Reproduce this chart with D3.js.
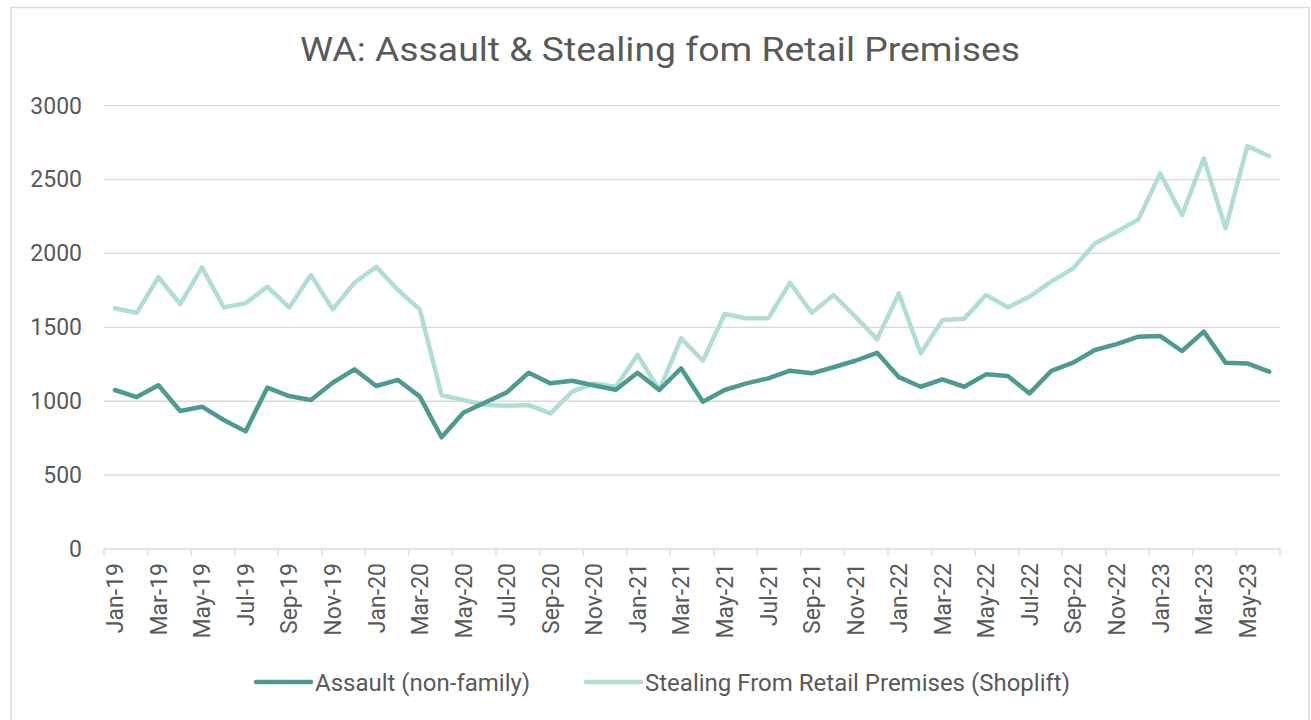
<!DOCTYPE html>
<meta charset="utf-8">
<style>
body { margin: 0; background: #fff; }
text { font-family: Roboto, "Liberation Sans", sans-serif; fill: #595959; }
.grid line { stroke: #d9d9d9; stroke-width: 1.3px; }
.series { fill: none; stroke-width: 4.5px; stroke-linejoin: round; stroke-linecap: round; }
</style>
<svg width="1311" height="720"></svg>
<script src="https://d3js.org/d3.v7.min.js"></script>
<script>

var months = ["Jan-19","Feb-19","Mar-19","Apr-19","May-19","Jun-19","Jul-19","Aug-19","Sep-19","Oct-19","Nov-19","Dec-19",
  "Jan-20","Feb-20","Mar-20","Apr-20","May-20","Jun-20","Jul-20","Aug-20","Sep-20","Oct-20","Nov-20","Dec-20",
  "Jan-21","Feb-21","Mar-21","Apr-21","May-21","Jun-21","Jul-21","Aug-21","Sep-21","Oct-21","Nov-21","Dec-21",
  "Jan-22","Feb-22","Mar-22","Apr-22","May-22","Jun-22","Jul-22","Aug-22","Sep-22","Oct-22","Nov-22","Dec-22",
  "Jan-23","Feb-23","Mar-23","Apr-23","May-23","Jun-23"];

var assault = [1076,1028,1108,934,963,873,796,1092,1035,1008,1125,1216,
  1103,1144,1031,756,922,992,1060,1193,1121,1139,1106,1078,
  1193,1076,1223,997,1076,1121,1155,1207,1189,1230,1274,1328,
  1163,1098,1148,1098,1182,1171,1053,1205,1261,1347,1387,1437,
  1441,1340,1471,1261,1256,1200];

var shoplift = [1629,1599,1839,1658,1906,1635,1663,1775,1635,1854,1622,1802,
  1910,1753,1622,1042,1008,974,970,974,918,1065,1121,1098,
  1313,1076,1426,1274,1590,1561,1561,1802,1599,1719,1572,1419,
  1730,1324,1550,1559,1719,1635,1708,1809,1899,2068,2147,2231,
  2542,2260,2644,2170,2727,2659];

var yTicks = [0, 500, 1000, 1500, 2000, 2500, 3000];

var seriesNames = ["Assault (non-family)", "Stealing From Retail Premises (Shoplift)"];
var seriesColors = ["#4d9a92", "#b0ddd6"];

var svg = d3.select("svg");

// chart border
svg.append("rect")
    .attr("x", 11).attr("y", 7.5)
    .attr("width", 1298).attr("height", 730)
    .attr("fill", "none")
    .attr("stroke", "#d9d9d9")
    .attr("stroke-width", 1.5);

var plotLeft = 104, plotRight = 1280, plotTop = 105.7, plotBottom = 549;

var x = d3.scaleBand().domain(months).range([plotLeft, plotRight]).padding(0);
var y = d3.scaleLinear().domain([0, 3000]).range([plotBottom, plotTop]);

function cx(d, i) { return x(months[i]) + x.bandwidth() / 2; }

// title
svg.append("text")
    .attr("x", 660).attr("y", 61)
    .attr("text-anchor", "middle")
    .attr("textLength", 720)
    .attr("lengthAdjust", "spacingAndGlyphs")
    .style("font-size", "34px")
    .text("WA: Assault & Stealing fom Retail Premises");

// gridlines
svg.append("g").attr("class", "grid")
  .selectAll("line")
  .data(yTicks)
  .enter().append("line")
    .attr("x1", plotLeft).attr("x2", plotRight)
    .attr("y1", function(d) { return y(d); })
    .attr("y2", function(d) { return y(d); });

// y axis labels
var yAxis = svg.append("g")
    .attr("transform", "translate(" + (plotLeft - 22) + ",0)")
    .call(d3.axisLeft(y).tickValues(yTicks).tickSize(0).tickFormat(d3.format("d")));
yAxis.select(".domain").remove();
yAxis.selectAll("text")
    .attr("x", 0)
    .style("font-size", "23px")
    .style("fill", "#595959");

// x tick marks at category boundaries, every 2 months
var tickIdx = d3.range(0, months.length + 1, 2);
svg.append("g").attr("class", "grid")
  .selectAll("line")
  .data(tickIdx)
  .enter().append("line")
    .attr("x1", function(i) { return i < months.length ? x(months[i]) : plotRight; })
    .attr("x2", function(i) { return i < months.length ? x(months[i]) : plotRight; })
    .attr("y1", plotBottom).attr("y2", plotBottom + 7);

// x labels
var xAxis = svg.append("g")
    .attr("transform", "translate(0," + plotBottom + ")")
    .call(d3.axisBottom(x)
      .tickValues(months.filter(function(d, i) { return i % 2 == 0; }))
      .tickSize(0));
xAxis.select(".domain").remove();
xAxis.selectAll("text")
    .style("font-size", "23px")
    .style("fill", "#595959")
    .attr("text-anchor", "end")
    .attr("transform", "rotate(-90)")
    .attr("x", -14)
    .attr("y", 0)
    .attr("dy", "0.36em");

// lines
var line = d3.line()
    .x(cx)
    .y(function(d) { return y(d); });

svg.append("path")
    .datum(shoplift)
    .attr("class", "series")
    .attr("stroke", seriesColors[1])
    .attr("d", line);

svg.append("path")
    .datum(assault)
    .attr("class", "series")
    .attr("stroke", seriesColors[0])
    .attr("d", line);

// legend
var legendX = [256, 586];
var leg = svg.append("g").selectAll("g")
    .data(seriesNames)
    .enter().append("g")
    .attr("transform", function(d, i) { return "translate(" + legendX[i] + ",682)"; });

leg.append("line")
    .attr("x1", 0).attr("x2", 55)
    .attr("y1", 0).attr("y2", 0)
    .attr("stroke", function(d, i) { return seriesColors[i]; })
    .attr("stroke-width", 4.5)
    .attr("stroke-linecap", "round");

leg.append("text")
    .attr("x", 59)
    .attr("y", 8.5)
    .style("font-size", "24px")
    .text(function(d) { return d; });

</script>
